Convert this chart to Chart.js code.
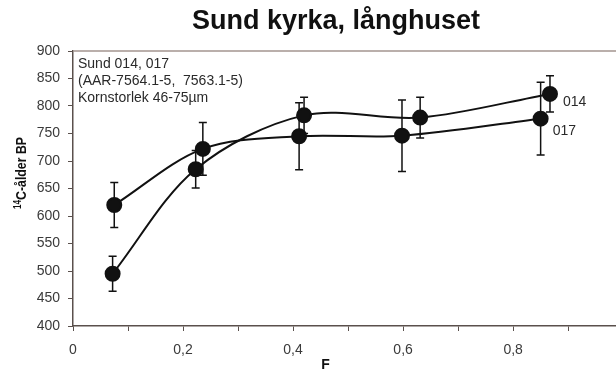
<!DOCTYPE html>
<html>
<head>
<meta charset="utf-8">
<script src="https://cdn.jsdelivr.net/npm/chart.js@4/dist/chart.umd.min.js"></script>
<style>
  html, body { margin: 0; padding: 0; background: #fff; }
  canvas { display: block; }
</style>
</head>
<body>
<canvas id="c" width="616" height="372"></canvas>
<script>
// Sund kyrka, långhuset – 14C age vs. fraction F for samples 014 and 017
const chartTitle = 'Sund kyrka, långhuset';
const xTitle = 'F';
const yTitleSup = '14';
const yTitleMain = 'C-ålder BP';
const seriesNames = ['014', '017'];

const f014   = [0.072, 0.223, 0.420, 0.631, 0.867];
const age014 = [495, 685, 783, 779, 822];
const err014 = [32, 34, 33, 37, 33];

const f017   = [0.075, 0.236, 0.411, 0.598, 0.850];
const age017 = [620, 722, 745, 746, 777];
const err017 = [41, 48, 61, 65, 66];

const fTicks      = [0, 0.2, 0.4, 0.6, 0.8];
const fTickLabels = ['0', '0,2', '0,4', '0,6', '0,8'];
const fMinorTicks = [0.1, 0.3, 0.5, 0.7, 0.9];
const ageTicks    = [400, 450, 500, 550, 600, 650, 700, 750, 800, 850, 900];

const noteLines = ['Sund 014, 017', '(AAR-7564.1-5,  7563.1-5)', 'Kornstorlek 46-75µm'];

const FONT = '"Liberation Sans", Arial, sans-serif';
const INK = '#111';
const AXIS = '#5a504c';

function points(fs, ages, errs) {
  return fs.map((f, i) => ({ x: f, y: ages[i], err: errs[i] }));
}

const labelOffsets = [{ dx: 13, dy: 8 }, { dx: 12, dy: 12 }];

const decor = {
  id: 'decor',
  beforeDatasetsDraw(chart) {
    const { ctx, scales: { x, y } } = chart;
    ctx.save();
    ctx.strokeStyle = INK;
    ctx.lineWidth = 1.5;
    chart.data.datasets.forEach(ds => {
      ds.data.forEach(p => {
        const px = x.getPixelForValue(p.x);
        const top = y.getPixelForValue(p.y + p.err);
        const bot = y.getPixelForValue(p.y - p.err);
        ctx.beginPath();
        ctx.moveTo(px, top); ctx.lineTo(px, bot);
        ctx.moveTo(px - 4, top); ctx.lineTo(px + 4, top);
        ctx.moveTo(px - 4, bot); ctx.lineTo(px + 4, bot);
        ctx.stroke();
      });
    });
    ctx.restore();
  },
  afterDraw(chart) {
    const { ctx, chartArea: a, scales: { x, y } } = chart;
    ctx.save();

    // upper frame line
    ctx.strokeStyle = '#a3958f';
    ctx.lineWidth = 1.5;
    ctx.beginPath();
    ctx.moveTo(a.left, a.top);
    ctx.lineTo(a.right, a.top);
    ctx.stroke();

    // chart title
    ctx.fillStyle = INK;
    ctx.font = 'bold 27px ' + FONT;
    ctx.textAlign = 'center';
    ctx.textBaseline = 'middle';
    ctx.fillText(chartTitle, 336, 22);

    // x-axis title
    ctx.font = 'bold 14px ' + FONT;
    ctx.fillText(xTitle, a.left + (a.right - a.left) * 0.465, 365);

    // y-axis title with superscript, slightly condensed
    ctx.save();
    ctx.translate(22, a.top + 122);
    ctx.rotate(-Math.PI / 2);
    ctx.scale(0.82, 1);
    ctx.font = 'bold 10px ' + FONT;
    const wSup = ctx.measureText(yTitleSup).width;
    ctx.font = 'bold 15px ' + FONT;
    const wMain = ctx.measureText(yTitleMain).width;
    const sx = -(wSup + wMain) / 2;
    ctx.textAlign = 'left';
    ctx.font = 'bold 10px ' + FONT;
    ctx.fillText(yTitleSup, sx, -4);
    ctx.font = 'bold 15px ' + FONT;
    ctx.fillText(yTitleMain, sx + wSup, 0);
    ctx.restore();

    // sample note
    ctx.font = '14px ' + FONT;
    ctx.fillStyle = '#2a2a2a';
    ctx.textAlign = 'left';
    noteLines.forEach((t, i) => ctx.fillText(t, a.left + 5, 64 + i * 17));

    // series labels at the last point
    ctx.font = '14px ' + FONT;
    chart.data.datasets.forEach((ds, i) => {
      const last = ds.data[ds.data.length - 1];
      const o = labelOffsets[i];
      ctx.fillText(ds.label, x.getPixelForValue(last.x) + o.dx, y.getPixelForValue(last.y) + o.dy);
    });

    ctx.restore();
  }
};

const seriesStyle = {
  showLine: true,
  tension: 0.33,
  borderColor: INK,
  borderWidth: 2,
  backgroundColor: INK,
  pointBackgroundColor: INK,
  pointBorderColor: INK,
  pointRadius: 7,
  pointHoverRadius: 7
};

new Chart(document.getElementById('c'), {
  type: 'scatter',
  data: {
    datasets: [
      Object.assign({ label: seriesNames[0], data: points(f014, age014, err014) }, seriesStyle),
      Object.assign({ label: seriesNames[1], data: points(f017, age017, err017) }, seriesStyle)
    ]
  },
  options: {
    responsive: false,
    animation: false,
    devicePixelRatio: 1,
    layout: { autoPadding: false, padding: { top: 51, left: 0, right: 0, bottom: 0 } },
    plugins: {
      legend: { display: false },
      title: { display: false },
      tooltip: { enabled: false }
    },
    scales: {
      x: {
        type: 'linear',
        min: 0,
        max: 0.987,
        afterBuildTicks: s => {
          s.ticks = fTicks.concat(fMinorTicks).sort((p, q) => p - q).map(v => ({ value: v }));
        },
        afterFit: s => { s.height = 46; },
        ticks: {
          autoSkip: false,
          maxRotation: 0,
          padding: 11,
          color: '#3a3a3a',
          font: { family: FONT, size: 14 },
          callback: v => {
            const i = fTicks.findIndex(t => Math.abs(t - v) < 1e-6);
            return i >= 0 ? fTickLabels[i] : '';
          }
        },
        grid: { drawOnChartArea: false, drawTicks: true, tickLength: 5, color: AXIS, lineWidth: 1 },
        border: { display: true, color: AXIS, width: 1.5 }
      },
      y: {
        type: 'linear',
        min: ageTicks[0],
        max: ageTicks[ageTicks.length - 1],
        afterBuildTicks: s => { s.ticks = ageTicks.map(v => ({ value: v })); },
        afterFit: s => { s.width = 73; },
        ticks: {
          padding: 8,
          color: '#3a3a3a',
          font: { family: FONT, size: 14 }
        },
        grid: { drawOnChartArea: false, drawTicks: true, tickLength: 5, color: AXIS, lineWidth: 1 },
        border: { display: true, color: AXIS, width: 1.5 }
      }
    }
  },
  plugins: [decor]
});
</script>
</body>
</html>
